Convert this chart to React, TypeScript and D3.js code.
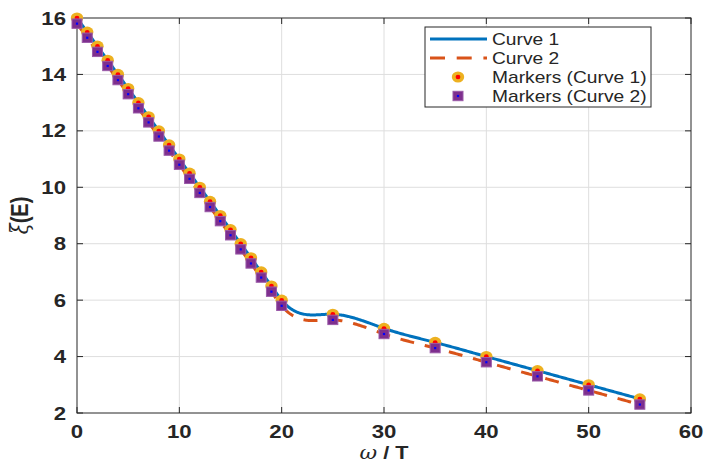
import React from "react";
import * as d3 from "d3";

// ---- data ----
const xValues = [0, 1, 2, 3, 4, 5, 6, 7, 8, 9, 10, 11, 12, 13, 14, 15, 16, 17, 18, 19, 20, 25, 30, 35, 40, 45, 50, 55];
const curve1 = [16, 15.5, 15, 14.5, 14, 13.5, 13, 12.5, 12, 11.5, 11, 10.5, 10, 9.5, 9, 8.5, 8, 7.5, 7, 6.5, 6, 5.5, 5, 4.5, 4, 3.5, 3, 2.5];
const curve2 = [15.8, 15.3, 14.8, 14.3, 13.8, 13.3, 12.8, 12.3, 11.8, 11.3, 10.8, 10.3, 9.8, 9.3, 8.8, 8.3, 7.8, 7.3, 6.8, 6.3, 5.8, 5.3, 4.8, 4.3, 3.8, 3.3, 2.8, 2.3];
const xTicks = [0, 10, 20, 30, 40, 50, 60];
const yTicks = [2, 4, 6, 8, 10, 12, 14, 16];
const legendLabels = ["Curve 1", "Curve 2", "Markers (Curve 1)", "Markers (Curve 2)"];

// natural cubic spline in x
function naturalSpline(xs: number[], ys: number[]) {
  const n = xs.length;
  const h: number[] = [];
  for (let i = 0; i < n - 1; i++) h.push(xs[i + 1] - xs[i]);
  const a = new Array(n).fill(0), b = new Array(n).fill(0), c = new Array(n).fill(0), r = new Array(n).fill(0);
  b[0] = 1; b[n - 1] = 1;
  for (let i = 1; i < n - 1; i++) {
    a[i] = h[i - 1];
    b[i] = 2 * (h[i - 1] + h[i]);
    c[i] = h[i];
    r[i] = 6 * ((ys[i + 1] - ys[i]) / h[i] - (ys[i] - ys[i - 1]) / h[i - 1]);
  }
  const cp = new Array(n).fill(0), rp = new Array(n).fill(0);
  cp[0] = c[0] / b[0]; rp[0] = r[0] / b[0];
  for (let i = 1; i < n; i++) {
    const m = b[i] - a[i] * cp[i - 1];
    cp[i] = c[i] / m;
    rp[i] = (r[i] - a[i] * rp[i - 1]) / m;
  }
  const M = new Array(n).fill(0);
  M[n - 1] = rp[n - 1];
  for (let i = n - 2; i >= 0; i--) M[i] = rp[i] - cp[i] * M[i + 1];
  return (x: number) => {
    let i = d3.bisectRight(xs, x) - 1;
    i = Math.max(0, Math.min(n - 2, i));
    const hi = h[i];
    const t1 = xs[i + 1] - x, t0 = x - xs[i];
    return (
      (M[i] * t1 * t1 * t1) / (6 * hi) +
      (M[i + 1] * t0 * t0 * t0) / (6 * hi) +
      (ys[i] / hi - (M[i] * hi) / 6) * t1 +
      (ys[i + 1] / hi - (M[i + 1] * hi) / 6) * t0
    );
  };
}

const W = 704, H = 464;
const left = 77, right = 691, top = 18, bottom = 413;
const ink = "#262626";
const font = "'Liberation Sans', Arial, Helvetica, sans-serif";
const SX = 1.2;

const blue = "#0072BD";
const orange = "#D95319";
const gold = "#EDB120";
const purple = "#7E2F8E";

function Txt(props: { x: number; y: number; anchor?: string; size: number; weight?: string; rotate?: number; children: React.ReactNode }) {
  const { x, y, anchor = "start", size, weight = "normal", rotate, children } = props;
  return (
    <text
      transform={`translate(${x},${y}) scale(${SX},1)${rotate ? ` rotate(${rotate})` : ""}`}
      textAnchor={anchor}
      fontSize={size}
      fontWeight={weight}
      fontFamily={font}
      fill={ink}
    >
      {children}
    </text>
  );
}

function Circ({ cx, cy }: { cx: number; cy: number }) {
  return (
    <g>
      <ellipse cx={cx} cy={cy} rx={6.2} ry={5.6} fill={gold} />
      <ellipse cx={cx} cy={cy} rx={2.4} ry={2.2} fill="#FF0000" />
    </g>
  );
}

function Sq({ cx, cy }: { cx: number; cy: number }) {
  return (
    <g>
      <rect x={cx - 5} y={cy - 4.7} width={10} height={9.4} fill={purple} stroke="#9a5aa8" strokeWidth={1} />
      <rect x={cx - 1.1} y={cy - 1.1} width={2.2} height={2.2} fill="#0000FF" />
    </g>
  );
}

export default function App() {
  const x = d3.scaleLinear().domain([0, 60]).range([left, right]);
  const y = d3.scaleLinear().domain([2, 16]).range([bottom, top]);

  const s1 = naturalSpline(xValues, curve1);
  const s2 = naturalSpline(xValues, curve2);
  const samples = d3.range(0, 55.0001, 0.1);
  const line = d3
    .line<number>()
    .x((d) => x(d))
    .curve(d3.curveLinear);
  const path1 = line.y((d) => y(s1(d)))(samples) || "";
  const path2 = line.y((d) => y(s2(d)))(samples) || "";

  const legX = 425, legY = 27, legW = 226, legH = 80;
  const rowY = [39, 58, 77, 96];

  return (
    <svg width={W} height={H} style={{ position: "absolute", left: 0, top: 0, background: "#fff" }}>
      <rect x={0} y={0} width={W} height={H} fill="#fff" />
      {/* grid */}
      {xTicks.slice(1, -1).map((t) => (
        <line key={"gx" + t} x1={x(t)} x2={x(t)} y1={top} y2={bottom} stroke="#dedede" strokeWidth={1} />
      ))}
      {yTicks.slice(1, -1).map((t) => (
        <line key={"gy" + t} x1={left} x2={right} y1={y(t)} y2={y(t)} stroke="#dedede" strokeWidth={1} />
      ))}
      {/* ticks */}
      {xTicks.map((t) => (
        <g key={"tx" + t}>
          <line x1={x(t)} x2={x(t)} y1={bottom} y2={bottom - 6} stroke={ink} strokeWidth={1} />
          <line x1={x(t)} x2={x(t)} y1={top} y2={top + 6} stroke={ink} strokeWidth={1} />
        </g>
      ))}
      {yTicks.map((t) => (
        <g key={"ty" + t}>
          <line x1={left} x2={left + 6} y1={y(t)} y2={y(t)} stroke={ink} strokeWidth={1} />
          <line x1={right} x2={right - 6} y1={y(t)} y2={y(t)} stroke={ink} strokeWidth={1} />
        </g>
      ))}
      {/* box */}
      <rect x={left} y={top} width={right - left} height={bottom - top} fill="none" stroke={ink} strokeWidth={1} />

      {/* tick labels */}
      {xTicks.map((t) => (
        <Txt key={"lx" + t} x={x(t)} y={bottom + 24.5} anchor="middle" size={18.5} weight="bold">
          {t}
        </Txt>
      ))}
      {yTicks.map((t) => (
        <Txt key={"ly" + t} x={left - 11} y={y(t) + 6.5} anchor="end" size={18.5} weight="bold">
          {t}
        </Txt>
      ))}

      {/* axis labels */}
      <Txt x={(left + right) / 2} y={459} anchor="middle" size={18} weight="bold">
        <tspan fontStyle="italic" fontWeight="normal" fontFamily="'DejaVu Serif', 'Liberation Serif', serif">ω</tspan>
        <tspan> / T</tspan>
      </Txt>
      <Txt x={28} y={(top + bottom) / 2} anchor="middle" size={20} weight="bold" rotate={-90}>
        <tspan fontWeight="normal" fontFamily="'DejaVu Serif', 'Liberation Serif', serif" fontStyle="italic">ξ</tspan>
        <tspan>(E)</tspan>
      </Txt>

      {/* curves */}
      <path d={path1} fill="none" stroke={blue} strokeWidth={3} />
      <path d={path2} fill="none" stroke={orange} strokeWidth={3} strokeDasharray="14 11" />

      {/* markers */}
      {xValues.map((v, i) => (
        <Circ key={"c" + i} cx={x(v)} cy={y(curve1[i])} />
      ))}
      {xValues.map((v, i) => (
        <Sq key={"s" + i} cx={x(v)} cy={y(curve2[i])} />
      ))}

      {/* legend */}
      <rect x={legX} y={legY} width={legW} height={legH} fill="#fff" stroke={ink} strokeWidth={1} />
      <line x1={430} x2={487} y1={rowY[0]} y2={rowY[0]} stroke={blue} strokeWidth={3} />
      <line x1={430} x2={487} y1={rowY[1]} y2={rowY[1]} stroke={orange} strokeWidth={3} strokeDasharray="15 11.7" />
      <Circ cx={458} cy={rowY[2]} />
      <Sq cx={458} cy={rowY[3]} />
      {legendLabels.map((l, i) => (
        <Txt key={"lg" + i} x={492} y={rowY[i] + 5.6} size={16}>
          {l}
        </Txt>
      ))}
    </svg>
  );
}
